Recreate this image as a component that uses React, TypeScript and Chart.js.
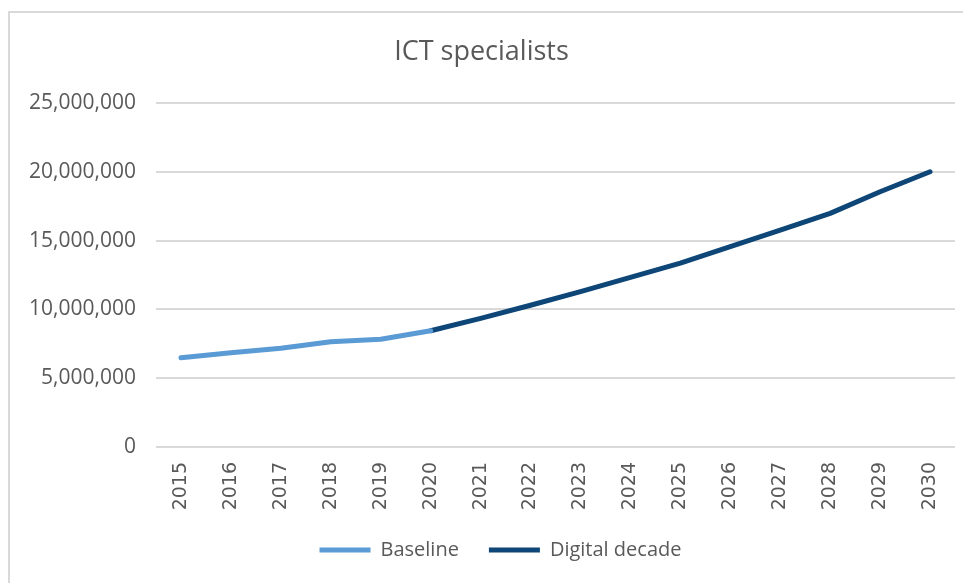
import React, { useEffect, useRef } from "react";
import { Chart, registerables } from "chart.js";

Chart.register(...registerables);

const title = "ICT specialists";
const years = ["2015", "2016", "2017", "2018", "2019", "2020", "2021", "2022", "2023", "2024", "2025", "2026", "2027", "2028", "2029", "2030"];
const baseline = [6490000, 6850000, 7170000, 7650000, 7830000, 8450000, null, null, null, null, null, null, null, null, null, null];
const digitalDecade = [null, null, null, null, null, 8450000, 9350000, 10300000, 11290000, 12330000, 13370000, 14560000, 15770000, 16980000, 18550000, 20000000];
const seriesNames = ["Baseline", "Digital decade"];
const yMin = 0;
const yMax = 25000000;
const yStep = 5000000;

const legendShift = {
  id: "legendShift",
  afterLayout(chart: any) {
    if (chart.legend) {
      chart.legend.left += 19;
      chart.legend.right += 19;
    }
  },
};

export default function App() {
  const ref = useRef<HTMLCanvasElement>(null);
  useEffect(() => {
    if (!ref.current) return;
    const chart = new Chart(ref.current, {
      type: "line",
      data: {
        labels: years,
        datasets: [
          {
            label: seriesNames[0],
            data: baseline,
            borderColor: "#5B9BD5",
            backgroundColor: "#5B9BD5",
            borderWidth: 5,
            borderCapStyle: "round",
            borderJoinStyle: "round",
            pointRadius: 0,
            pointStyle: "line",
            tension: 0,
            spanGaps: false,
          },
          {
            label: seriesNames[1],
            data: digitalDecade,
            borderColor: "#0D4677",
            backgroundColor: "#0D4677",
            borderWidth: 5,
            borderCapStyle: "round",
            borderJoinStyle: "round",
            pointRadius: 0,
            pointStyle: "line",
            tension: 0,
            spanGaps: false,
          },
        ],
      },
      options: {
        animation: false,
        responsive: false,
        maintainAspectRatio: false,
        layout: { padding: { left: 0, right: 16, top: 0, bottom: 13 } },
        plugins: {
          title: {
            display: true,
            text: title,
            color: "#595959",
            font: { family: "'Open Sans'", size: 27, weight: "normal", lineHeight: 1.2 },
            padding: { top: 28, bottom: 34.6 },
          },
          legend: {
            display: true,
            position: "bottom",
            labels: {
              usePointStyle: true,
              pointStyleWidth: 51,
              color: "#595959",
              font: { family: "'Open Sans'", size: 20 },
              padding: 30,
            },
          },
          tooltip: { enabled: false },
        },
        scales: {
          x: {
            type: "category",
            offset: true,
            grid: { display: false, drawTicks: false },
            border: { display: false },
            ticks: {
              minRotation: 90,
              maxRotation: 90,
              color: "#595959",
              font: { family: "'DejaVu Sans'", size: 19 },
              padding: 15,
            },
            afterFit: (scale: any) => {
              scale.height = 63;
            },
          },
          y: {
            min: yMin,
            max: yMax,
            grid: { color: "#d9d9d9", lineWidth: 2, drawTicks: false },
            border: { display: false },
            ticks: {
              stepSize: yStep,
              color: "#595959",
              font: { family: "'Open Sans'", size: 21 },
              padding: 20,
              callback: (v: any) => Number(v).toLocaleString("en-US"),
            },
            afterFit: (scale: any) => {
              scale.width = 148;
            },
          },
        },
      },
      plugins: [legendShift],
    });
    return () => chart.destroy();
  }, []);

  return (
    <div style={{ position: "relative", width: 963, height: 575, overflow: "hidden", background: "#fff" }}>
      <div
        style={{
          position: "absolute",
          left: 0,
          top: 3,
          width: 1100,
          height: 1100,
          border: "2px solid #d9d9d9",
          boxSizing: "border-box",
        }}
      />
      <canvas ref={ref} width={963} height={575} style={{ position: "absolute", left: 0, top: 0, width: 963, height: 575 }} />
    </div>
  );
}
